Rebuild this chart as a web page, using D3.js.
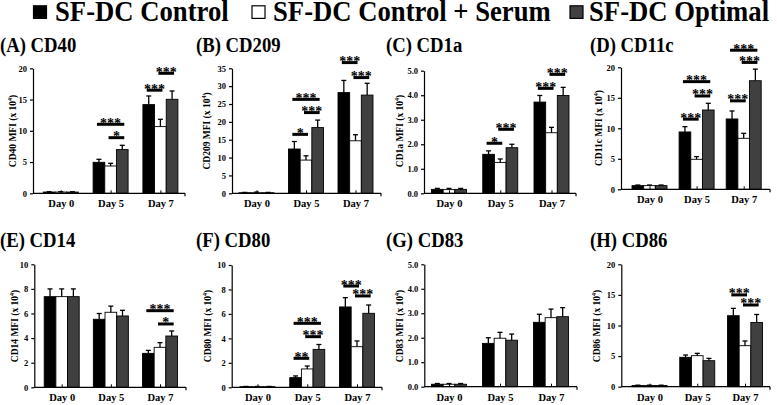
<!DOCTYPE html>
<html><head><meta charset="utf-8">
<script src="https://cdn.jsdelivr.net/npm/d3@7"></script>
<style>html,body{margin:0;padding:0;background:#fff;}svg{display:block;}</style>
</head><body><svg id="c" width="777" height="405"></svg>
<script>
// ---------- DATA ----------
const days = ["Day 0", "Day 5", "Day 7"];
const seriesNames = ["SF-DC Control", "SF-DC Control + Serum", "SF-DC Optimal"];
const markers = ["CD40", "CD209", "CD1a", "CD11c", "CD14", "CD80", "CD83", "CD86"];
const letters = ["A", "B", "C", "D", "E", "F", "G", "H"];
const yMaxes = [20, 35, 5, 20, 10, 10, 5, 20];
const ySteps = [5, 5, 1, 5, 2, 2, 1, 5];

// mean[day][series]
const meanCD40  = [[0.2, 0.2, 0.2], [4.96, 4.37, 6.99], [14.19, 10.67, 15.04]];
const errCD40   = [[0.05, 0.05, 0.05], [0.48, 0.43, 0.69], [1.38, 1.17, 1.33]];
const meanCD209 = [[0.15, 0.15, 0.15], [12.4, 9.3, 18.4], [28.2, 14.7, 27.5]];
const errCD209  = [[0.1, 0.2, 0.1], [2.1, 1.2, 2.1], [3.4, 1.7, 3.3]];
const meanCD1a  = [[0.16, 0.15, 0.16], [1.59, 1.26, 1.86], [3.72, 2.47, 3.99]];
const errCD1a   = [[0.04, 0.05, 0.04], [0.14, 0.14, 0.14], [0.27, 0.22, 0.33]];
const meanCD11c = [[0.6, 0.6, 0.6], [9.4, 4.92, 13.0], [11.53, 8.36, 17.8]];
const errCD11c  = [[0.1, 0.1, 0.1], [0.87, 0.44, 1.1], [1.31, 0.82, 1.9]];
const meanCD14  = [[7.37, 7.37, 7.37], [5.53, 6.1, 5.8], [2.76, 3.25, 4.17]];
const errCD14   = [[0.63, 0.63, 0.63], [0.47, 0.5, 0.46], [0.24, 0.38, 0.41]];
const meanCD80  = [[0.05, 0.05, 0.05], [0.79, 1.5, 3.1], [6.57, 3.32, 6.05]];
const errCD80   = [[0.02, 0.02, 0.02], [0.14, 0.24, 0.4], [0.76, 0.47, 0.68]];
const meanCD83  = [[0.1, 0.1, 0.1], [1.77, 1.98, 1.9], [2.63, 2.82, 2.86]];
const errCD83   = [[0.03, 0.03, 0.03], [0.23, 0.24, 0.25], [0.33, 0.35, 0.37]];
const meanCD86  = [[0.2, 0.2, 0.2], [4.8, 5.07, 4.25], [11.6, 6.7, 10.5]];
const errCD86   = [[0.05, 0.05, 0.05], [0.38, 0.38, 0.38], [1.2, 0.77, 1.3]];

// significance: [dayIndex, seriesA, seriesB, height (data units), label]
const sigCD40  = [[1,0,2,11.04,"***"],[1,1,2,8.9,"*"],[2,0,1,16.5,"***"],[2,1,2,19.2,"***"]];
const sigCD209 = [[1,0,1,16.5,"*"],[1,0,2,26.3,"***"],[1,1,2,22.6,"***"],[2,0,1,36.6,"***"],[2,1,2,32.4,"***"]];
const sigCD1a  = [[1,0,1,2.04,"*"],[1,1,2,2.61,"***"],[2,0,1,4.28,"***"],[2,1,2,4.85,"***"]];
const sigCD11c = [[1,0,1,11.5,"***"],[1,0,2,17.65,"***"],[1,1,2,15.3,"***"],[2,0,1,14.5,"***"],[2,0,2,22.8,"***"],[2,1,2,20.8,"***"]];
const sigCD14  = [[2,0,2,6.23,"***"],[2,1,2,5.15,"*"]];
const sigCD80  = [[1,0,1,2.37,"**"],[1,0,2,5.23,"***"],[1,1,2,4.14,"***"],[2,0,1,8.28,"***"],[2,1,2,7.47,"***"]];
const sigCD83  = [];
const sigCD86  = [[2,0,1,15.0,"***"],[2,1,2,13.35,"***"]];

const means = [meanCD40, meanCD209, meanCD1a, meanCD11c, meanCD14, meanCD80, meanCD83, meanCD86];
const errs  = [errCD40, errCD209, errCD1a, errCD11c, errCD14, errCD80, errCD83, errCD86];
const sigs  = [sigCD40, sigCD209, sigCD1a, sigCD11c, sigCD14, sigCD80, sigCD83, sigCD86];

// ---------- LAYOUT ----------
const colors = ["#000000", "#ffffff", "#404040"];
const FONT = "'Liberation Serif','Times New Roman',serif";
const layout = [
  {ax: 33,    c0: 60.8,  c2: 160.4, xEnd: 185, yTop: 68.3,  yBot: 193.3, tx: 0,   ty: 52,  lx: 13,  ly: 131},
  {ax: 232,   c0: 256.5, c2: 355.5, xEnd: 381, yTop: 68.3,  yBot: 193.3, tx: 196, ty: 52,  lx: 207, ly: 131},
  {ax: 424,   c0: 449,   c2: 551.5, xEnd: 576, yTop: 70.7,  yBot: 193.3, tx: 386, ty: 52,  lx: 400, ly: 131},
  {ax: 621,   c0: 649.5, c2: 743.7, xEnd: 770, yTop: 67.3,  yBot: 189.3, tx: 590, ty: 52,  lx: 599, ly: 128},
  {ax: 34.3,  c0: 61.7,  c2: 160,   xEnd: 186, yTop: 264.3, yBot: 387.3, tx: 0,   ty: 247, lx: 15,  ly: 326},
  {ax: 231.7, c0: 257.5, c2: 357,   xEnd: 382, yTop: 265,   yBot: 387.3, tx: 196, ty: 247, lx: 208, ly: 326},
  {ax: 424.3, c0: 449,   c2: 551,   xEnd: 577, yTop: 264.3, yBot: 386.7, tx: 386, ty: 247, lx: 400, ly: 326},
  {ax: 621.3, c0: 649.5, c2: 745,   xEnd: 770, yTop: 264.3, yBot: 386.7, tx: 590, ty: 247, lx: 597, ly: 326}
];

const svg = d3.select("#c");

// ---------- LEGEND ----------
const legendPos = [{sx: 33.5, tx: 55}, {sx: 252, tx: 273}, {sx: 570, tx: 589}];
seriesNames.forEach((name, i) => {
  svg.append("rect").attr("x", legendPos[i].sx).attr("y", 5.8).attr("width", 13).attr("height", 12.6)
    .attr("fill", colors[i]).attr("stroke", "#000").attr("stroke-width", 1.2);
  svg.append("g").attr("transform", `translate(${legendPos[i].tx},21) scale(0.92,1)`)
    .append("text").attr("font-family", FONT).attr("font-weight", "bold").attr("font-size", 29)
    .attr("fill", "#000").text(name);
});

// ---------- PANELS ----------
const inner = d3.scaleBand().domain([0, 1, 2]).range([-17.5, 17.5]).padding(0);

markers.forEach((m, p) => {
  const L = layout[p];
  const g = svg.append("g");
  const x = d3.scalePoint().domain(days).range([L.c0, L.c2]);
  const y = d3.scaleLinear().domain([0, yMaxes[p]]).range([L.yBot, L.yTop]);

  // title
  g.append("g").attr("transform", `translate(${L.tx},${L.ty}) scale(0.85,1)`)
    .append("text").attr("font-family", FONT).attr("font-weight", "bold").attr("font-size", 22)
    .text(`(${letters[p]}) ${m}`);

  // y label
  const yl = g.append("text").attr("transform", `translate(${L.lx},${L.ly}) rotate(-90)`)
    .attr("text-anchor", "middle").attr("dominant-baseline", "central")
    .attr("font-family", FONT).attr("font-weight", "bold").attr("font-size", 9.5);
  yl.append("tspan").text(`${m} MFI (x 10`);
  yl.append("tspan").attr("font-size", 6).attr("dy", -3.5).text("4");
  yl.append("tspan").attr("dy", 3.5).text(")");

  // y axis
  const ticks = d3.range(0, yMaxes[p] + ySteps[p] / 2, ySteps[p]);
  const ya = g.append("g").attr("transform", `translate(${L.ax},0)`)
    .call(d3.axisLeft(y).tickValues(ticks).tickSize(3).tickSizeOuter(0).tickPadding(3));
  ya.selectAll("path,line").attr("stroke", "#000").attr("stroke-width", 1.2);
  ya.selectAll("text").attr("font-family", FONT).attr("font-weight", "bold").attr("font-size", 8.5).attr("fill", "#000");

  // bars
  const flat = [];
  days.forEach((d, di) => seriesNames.forEach((s, si) => flat.push({d, di, si, v: means[p][di][si], e: errs[p][di][si]})));
  g.selectAll("rect.bar").data(flat).enter().append("rect").attr("class", "bar")
    .attr("x", d => x(d.d) + inner(d.si)).attr("width", inner.bandwidth())
    .attr("y", d => y(d.v)).attr("height", d => y(0) - y(d.v))
    .attr("fill", d => colors[d.si]).attr("stroke", "#000").attr("stroke-width", 0.9);

  // error bars
  const cx = d => x(d.d) + inner(d.si) + inner.bandwidth() / 2;
  g.selectAll("line.err").data(flat).enter().append("line").attr("class", "err")
    .attr("x1", cx).attr("x2", cx).attr("y1", d => y(d.v)).attr("y2", d => y(d.v + d.e))
    .attr("stroke", "#000").attr("stroke-width", 1.3);
  g.selectAll("line.cap").data(flat).enter().append("line").attr("class", "cap")
    .attr("x1", d => cx(d) - 2.5).attr("x2", d => cx(d) + 2.5)
    .attr("y1", d => y(d.v + d.e)).attr("y2", d => y(d.v + d.e))
    .attr("stroke", "#000").attr("stroke-width", 1.3);

  // x axis
  g.append("line").attr("x1", L.ax).attr("x2", L.xEnd).attr("y1", L.yBot).attr("y2", L.yBot)
    .attr("stroke", "#000").attr("stroke-width", 1.2);
  g.append("line").attr("x1", L.xEnd).attr("x2", L.xEnd).attr("y1", L.yBot).attr("y2", L.yBot + 3)
    .attr("stroke", "#000").attr("stroke-width", 1.2);
  const xa = g.append("g").attr("transform", `translate(0,${L.yBot})`)
    .call(d3.axisBottom(x).tickSizeInner(-3).tickSizeOuter(0).tickPadding(6.5));
  xa.select(".domain").remove();
  xa.selectAll("line").attr("stroke", "#000").attr("stroke-width", 1);
  xa.selectAll("text").attr("font-family", FONT).attr("font-weight", "bold").attr("font-size", 10.5).attr("fill", "#000");

  // significance
  const bc = (di, si) => x(days[di]) + inner(si) + inner.bandwidth() / 2;
  sigs[p].forEach(s => {
    const [di, a, b, h, lab] = s;
    const x1 = bc(di, a) - 2, x2 = bc(di, b) + 2, yy = y(h);
    g.append("line").attr("x1", x1).attr("x2", x2).attr("y1", yy).attr("y2", yy)
      .attr("stroke", "#000").attr("stroke-width", 3);
    g.append("text").attr("x", (x1 + x2) / 2).attr("y", yy + 3.5).attr("text-anchor", "middle")
      .attr("font-family", FONT).attr("font-weight", "bold").attr("font-size", 14).text(lab);
  });
});
</script></body></html>
